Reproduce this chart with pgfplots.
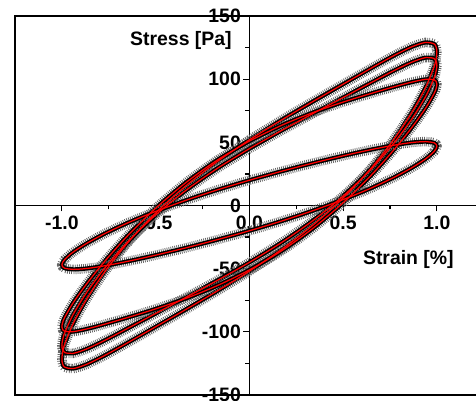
\documentclass[border=0pt]{standalone}
\usepackage{fontspec}
\setmainfont{Liberation Sans}
\usepackage{pgfplots}
\usepackage{pgfplotstable}
\pgfplotsset{compat=1.18}

\pgfplotstableread{
x y
0.000 20.00
0.174 27.18
0.342 33.66
0.500 39.32
0.643 44.02
0.766 47.59
0.866 49.84
0.940 50.57
0.985 49.64
0.996 48.53
1.000 47.00
0.996 45.05
0.985 42.69
0.940 36.89
0.866 29.84
0.766 21.88
0.643 13.38
0.500 4.68
0.342 -3.93
0.174 -12.21
0.000 -20.00
-0.174 -27.18
-0.342 -33.66
-0.500 -39.32
-0.643 -44.02
-0.766 -47.59
-0.866 -49.84
-0.940 -50.57
-0.985 -49.64
-0.996 -48.53
-1.000 -47.00
-0.996 -45.05
-0.985 -42.69
-0.940 -36.89
-0.866 -29.84
-0.766 -21.88
-0.643 -13.38
-0.500 -4.68
-0.342 3.93
-0.174 12.21
0.000 20.00
}\loopA

\pgfplotstableread{
x y
0.000 51.00
0.174 63.61
0.342 73.73
0.500 81.84
0.643 88.41
0.766 93.71
0.866 97.68
0.940 99.85
0.985 99.56
0.996 98.23
1.000 96.00
0.996 92.80
0.985 88.58
0.940 77.05
0.866 61.68
0.766 43.24
0.643 22.94
0.500 2.16
0.342 -17.72
0.174 -35.66
0.000 -51.00
-0.174 -63.61
-0.342 -73.73
-0.500 -81.84
-0.643 -88.41
-0.766 -93.71
-0.866 -97.68
-0.940 -99.85
-0.985 -99.56
-0.996 -98.23
-1.000 -96.00
-0.996 -92.80
-0.985 -88.58
-0.940 -77.05
-0.866 -61.68
-0.766 -43.24
-0.643 -22.94
-0.500 -2.16
-0.342 17.72
-0.174 35.66
0.000 51.00
}\loopB

\pgfplotstableread{
x y
0.000 45.00
0.174 59.55
0.342 73.00
0.500 85.47
0.643 96.77
0.766 106.36
0.866 113.43
0.940 117.06
0.985 116.42
0.996 114.32
1.000 111.00
0.996 106.47
0.985 100.79
0.940 86.28
0.866 68.43
0.766 48.51
0.643 27.83
0.500 7.53
0.342 -11.57
0.174 -29.08
0.000 -45.00
-0.174 -59.55
-0.342 -73.00
-0.500 -85.47
-0.643 -96.77
-0.766 -106.36
-0.866 -113.43
-0.940 -117.06
-0.985 -116.42
-0.996 -114.32
-1.000 -111.00
-0.996 -106.47
-0.985 -100.79
-0.940 -86.28
-0.866 -68.43
-0.766 -48.51
-0.643 -27.83
-0.500 -7.53
-0.342 11.57
-0.174 29.08
0.000 45.00
}\loopC

\pgfplotstableread{
x y
0.000 52.00
0.174 67.93
0.342 82.57
0.500 96.03
0.643 108.13
0.766 118.27
0.866 125.59
0.940 129.10
0.985 127.91
0.996 125.37
1.000 121.50
0.996 116.31
0.985 109.85
0.940 93.53
0.866 73.59
0.766 51.42
0.643 28.46
0.500 5.97
0.342 -15.16
0.174 -34.49
0.000 -52.00
-0.174 -67.93
-0.342 -82.57
-0.500 -96.03
-0.643 -108.13
-0.766 -118.27
-0.866 -125.59
-0.940 -129.10
-0.985 -127.91
-0.996 -125.37
-1.000 -121.50
-0.996 -116.31
-0.985 -109.85
-0.940 -93.53
-0.866 -73.59
-0.766 -51.42
-0.643 -28.46
-0.500 -5.97
-0.342 15.16
-0.174 34.49
0.000 52.00
}\loopD

\newcommand{\lblfont}{\bfseries\fontsize{19.5}{22}\selectfont}
\pgfplotsset{
  band/.style={black, line width=4.2pt, smooth},
  serr/.style={black!60, line width=9.5pt, smooth, dash pattern=on 0.8pt off 1.2pt},
  fit/.style={red, line width=1.25pt, smooth},
}

\begin{document}
\begin{tikzpicture}
\begin{axis}[
  name=ax,
  scale only axis, width=468.75bp, height=379bp,
  xmin=-1.25, xmax=1.25, ymin=-150, ymax=150,
  axis lines=middle, axis line style={line width=1.3pt, -},
  clip=false,
  hide obscured x ticks=false, hide obscured y ticks=false,
  xtick={-1,-0.5,0,0.5,1}, ytick={-150,-100,-50,0,50,100,150},
  minor xtick={-0.75,-0.25,0.25,0.75}, minor ytick={-125,-75,-25,25,75,125},
  tick align=outside, major tick length=6bp, minor tick length=4bp,
  every tick/.style={black, line width=1.2pt},
  /pgf/number format/assume math mode=true,
  tick label style={font=\lblfont},
  xticklabel style={/pgf/number format/fixed, /pgf/number format/fixed zerofill, /pgf/number format/precision=1, yshift=-1bp},
  yticklabel style={/pgf/number format/fixed, /pgf/number format/precision=0, xshift=1bp},
]
% measured data (black bands)
\addplot[serr] table {\loopD};
\addplot[band] table {\loopD};
\addplot[serr] table {\loopC};
\addplot[band] table {\loopC};
\addplot[serr] table {\loopB};
\addplot[band] table {\loopB};
\addplot[serr] table {\loopA};
\addplot[band] table {\loopA};
% fits (red)
\addplot[fit] table {\loopD};
\addplot[fit] table {\loopC};
\addplot[fit] table {\loopB};
\addplot[fit] table {\loopA};
\node[font=\lblfont] at (axis cs:-0.365,131) {Stress [Pa]};
\node[font=\lblfont] at (axis cs:0.848,-43) {Strain [\%]};
\end{axis}
\draw[line width=1.5pt] (ax.south west) rectangle (ax.north east);
\pgfresetboundingbox
\useasboundingbox (-15bp,-6bp) rectangle (461bp,395bp);
\end{tikzpicture}
\end{document}
